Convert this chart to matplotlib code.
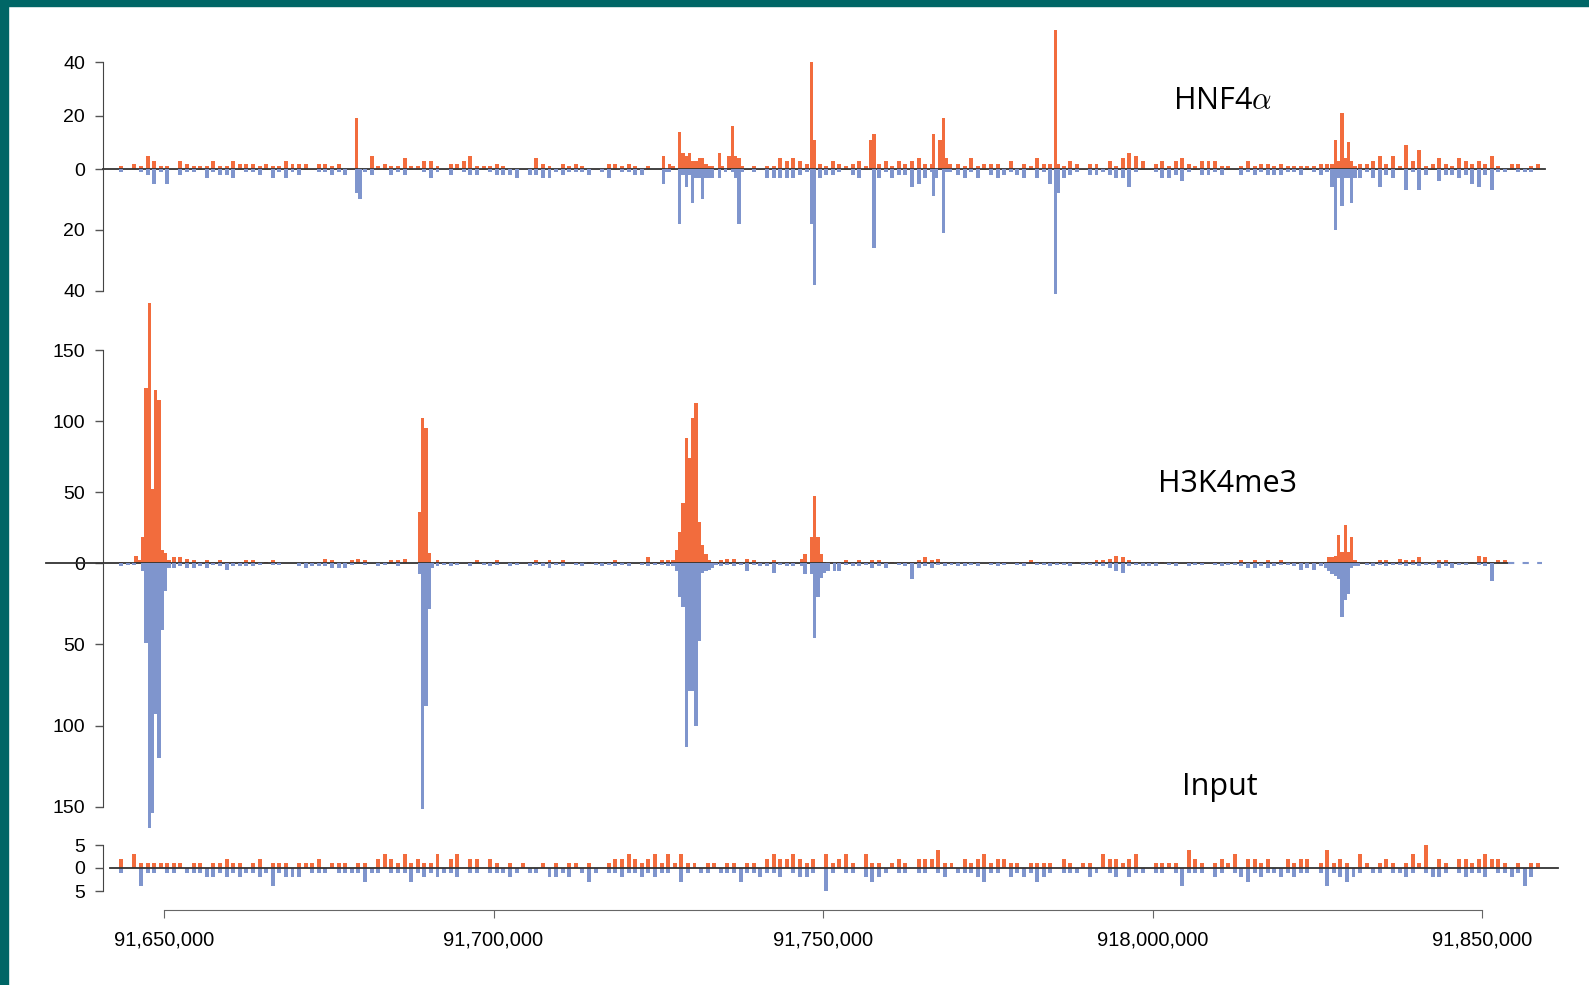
import numpy as np
import matplotlib
matplotlib.use("Agg")
import matplotlib.pyplot as plt
from matplotlib.patches import Rectangle

# ---- data (kb positions, read counts) ----
bin_start_kb = 91643          # first 1 kb background bin
tick_kb = [91650, 91700, 91750, 91800, 91850]
tick_labels = ["91,650,000", "91,700,000", "91,750,000", "918,000,000", "91,850,000"]

# HNF4a background, 1 kb bins (forward up, reverse down)
hnf_up = [
    1, 0, 2, 1, 5, 3, 1, 1, 0, 3, 2, 1,
    1, 1, 3, 1, 1, 3, 2, 2, 2, 1, 2, 1,
    1, 3, 2, 2, 2, 0, 2, 2, 1, 2, 0, 0,
    0, 0, 5, 1, 2, 1, 1, 4, 1, 1, 3, 3,
    1, 0, 2, 2, 3, 5, 1, 1, 1, 2, 1, 0,
    0, 0, 0, 4, 2, 1, 0, 2, 1, 2, 1, 0,
    0, 0, 2, 2, 1, 2, 1, 0, 1, 0, 0, 0,
    0, 0, 0, 0, 0, 0, 0, 0, 0, 0, 0, 0,
    1, 0, 1, 1, 4, 3, 4, 3, 2, 0, 2, 1,
    3, 2, 1, 2, 3, 1, 0, 2, 3, 1, 3, 2,
    3, 4, 2, 2, 0, 0, 0, 2, 1, 4, 1, 2,
    2, 2, 0, 3, 0, 2, 1, 4, 2, 2, 0, 1,
    3, 2, 0, 2, 2, 0, 3, 1, 4, 6, 5, 3,
    0, 2, 3, 1, 3, 4, 2, 1, 3, 3, 3, 1,
    1, 0, 1, 3, 1, 2, 2, 1, 2, 1, 1, 1,
    1, 1, 2, 2, 0, 0, 0, 0, 2, 2, 3, 5,
    2, 5, 1, 9, 3, 7, 1, 2, 4, 2, 1, 4,
    3, 2, 3, 2, 5, 1, 0, 2, 2, 0, 1, 2,
]
hnf_dn = [
    1, 0, 0, 1, 2, 5, 1, 5, 0, 2, 1, 1,
    0, 3, 1, 2, 2, 3, 0, 1, 1, 2, 0, 3,
    1, 3, 1, 2, 0, 0, 1, 1, 2, 1, 2, 0,
    0, 1, 2, 0, 0, 2, 1, 2, 0, 0, 1, 3,
    1, 0, 2, 0, 1, 2, 2, 0, 1, 2, 2, 2,
    3, 0, 2, 2, 3, 3, 1, 2, 1, 1, 1, 2,
    0, 1, 3, 0, 1, 1, 2, 2, 0, 0, 0, 0,
    0, 0, 0, 0, 0, 0, 0, 0, 0, 0, 0, 0,
    1, 0, 3, 3, 3, 3, 3, 2, 1, 0, 3, 2,
    2, 1, 0, 2, 3, 0, 0, 3, 1, 3, 2, 2,
    6, 5, 3, 1, 0, 0, 0, 2, 3, 1, 3, 0,
    2, 3, 2, 1, 2, 3, 0, 3, 1, 5, 0, 3,
    2, 1, 0, 2, 2, 1, 2, 3, 3, 6, 1, 0,
    0, 1, 3, 3, 2, 4, 1, 0, 2, 2, 1, 2,
    0, 0, 2, 1, 2, 1, 2, 2, 2, 1, 1, 2,
    0, 1, 2, 1, 0, 0, 0, 0, 3, 1, 3, 6,
    2, 3, 0, 7, 1, 7, 2, 0, 4, 2, 2, 3,
    2, 5, 6, 2, 7, 1, 1, 0, 1, 1, 1, 0,
]
# HNF4a peaks, 0.5 kb bins
hnf_peak_kb = [91679.0, 91679.5,
               91725.5, 91726.0, 91726.5, 91727.0, 91728.0, 91728.5, 91729.0, 91729.5,
               91730.0, 91730.5, 91731.0, 91731.5, 91732.0, 91732.5, 91733.0, 91734.0,
               91734.5, 91735.0, 91735.5, 91736.0, 91736.5, 91737.0, 91737.5,
               91748.0, 91748.5, 91757.0, 91757.5,
               91766.5, 91767.0, 91767.5, 91768.0, 91768.5, 91769.0,
               91785.0, 91785.5,
               91827.0, 91827.5, 91828.0, 91828.5, 91829.0, 91829.5, 91830.0, 91830.5]
hnf_peak_up = [19, 0,
               5, 0, 2, 1, 14, 6, 5, 6,
               3, 3, 4, 4, 2, 1, 1, 6,
               1, 0, 5, 16, 5, 4, 1,
               40, 11, 11, 13,
               13, 0, 11, 19, 4, 2,
               52, 2,
               2, 11, 3, 21, 4, 10, 3, 1]
hnf_peak_dn = [8, 10,
               5, 1, 1, 0, 18, 2, 6, 2,
               11, 3, 3, 10, 3, 3, 3, 3,
               0, 1, 0, 1, 3, 18, 1,
               18, 38, 0, 26,
               9, 3, 0, 21, 1, 1,
               41, 8,
               6, 20, 3, 12, 3, 3, 11, 3]

# H3K4me3 background, 1 kb bins
h3_up = [
    1, 0, 0, 0, 0, 0, 0, 0, 4, 4, 3, 2,
    1, 2, 1, 2, 1, 1, 1, 2, 2, 0, 1, 2,
    0, 0, 0, 0, 0, 1, 1, 3, 2, 0, 0, 2,
    3, 2, 0, 0, 0, 2, 2, 3, 0, 0, 0, 0,
    2, 1, 0, 1, 0, 1, 2, 0, 1, 2, 0, 0,
    1, 0, 1, 2, 0, 2, 1, 2, 0, 1, 0, 1,
    1, 0, 1, 2, 0, 1, 0, 1, 4, 1, 2, 2,
    0, 0, 0, 0, 0, 0, 0, 2, 3, 3, 1, 3,
    2, 1, 1, 2, 0, 1, 1, 0, 0, 0, 0, 0,
    0, 1, 2, 1, 2, 1, 2, 2, 1, 1, 1, 1,
    1, 2, 4, 2, 3, 1, 1, 0, 1, 0, 1, 0,
    1, 0, 1, 0, 1, 1, 2, 1, 0, 1, 1, 0,
    1, 1, 0, 1, 2, 2, 3, 5, 4, 2, 1, 0,
    1, 0, 1, 0, 1, 0, 1, 0, 1, 0, 1, 0,
    1, 0, 2, 1, 2, 1, 2, 1, 2, 0, 1, 1,
    0, 1, 0, 0, 0, 0, 0, 0, 0, 1, 0, 2,
    2, 1, 3, 2, 2, 4, 1, 0, 2, 2, 1, 1,
    0, 1, 5, 4, 1, 2, 2, 0, 0, 0, 0, 0,
]
h3_dn = [
    2, 1, 1, 0, 0, 0, 0, 0, 3, 2, 3, 3,
    2, 3, 1, 2, 4, 2, 2, 2, 2, 1, 0, 1,
    1, 0, 0, 2, 3, 2, 2, 2, 3, 3, 3, 1,
    0, 1, 0, 2, 1, 0, 2, 0, 0, 0, 0, 0,
    2, 1, 2, 1, 0, 2, 0, 1, 2, 1, 0, 2,
    1, 0, 2, 1, 2, 3, 1, 2, 0, 1, 2, 0,
    1, 2, 1, 2, 1, 2, 0, 1, 2, 1, 1, 2,
    0, 0, 0, 0, 0, 0, 0, 2, 1, 2, 1, 5,
    1, 2, 2, 6, 1, 2, 2, 0, 0, 0, 0, 0,
    0, 5, 1, 2, 2, 1, 3, 2, 3, 0, 1, 2,
    10, 3, 2, 3, 1, 2, 1, 2, 2, 1, 2, 0,
    1, 2, 1, 0, 1, 2, 0, 1, 1, 2, 1, 1,
    2, 0, 1, 1, 2, 2, 3, 5, 6, 2, 1, 2,
    2, 2, 0, 1, 2, 0, 2, 1, 1, 0, 1, 2,
    1, 1, 2, 3, 3, 2, 3, 2, 1, 1, 2, 4,
    3, 4, 2, 0, 0, 0, 0, 0, 0, 1, 2, 1,
    2, 1, 1, 2, 1, 2, 1, 1, 3, 2, 3, 1,
    1, 0, 1, 2, 11, 0, 0, 0, 0, 0, 0, 0,
]
# H3K4me3 peaks, 0.5 kb bins
h3_peak_kb = [91645.5, 91646.0, 91646.5, 91647.0, 91647.5, 91648.0, 91648.5, 91649.0,
              91649.5, 91650.0, 91650.5,
              91688.5, 91689.0, 91689.5, 91690.0, 91690.5,
              91727.0, 91727.5, 91728.0, 91728.5, 91729.0, 91729.5, 91730.0, 91730.5,
              91731.0, 91731.5, 91732.0, 91732.5, 91733.0, 91733.5,
              91746.5, 91747.0, 91748.0, 91748.5, 91749.0, 91749.5, 91750.0, 91750.5,
              91751.0, 91751.5,
              91826.0, 91826.5, 91827.0, 91827.5, 91828.0, 91828.5, 91829.0, 91829.5,
              91830.0, 91830.5, 91831.0]
h3_peak_up = [5, 2, 18, 123, 183, 52, 122, 115,
              9, 7, 2,
              36, 102, 95, 7, 0,
              2, 9, 22, 42, 88, 74, 102, 113,
              29, 13, 6, 2, 1, 1,
              3, 6, 18, 47, 18, 6, 1, 0,
              1, 0,
              1, 4, 4, 5, 20, 8, 27, 8,
              18, 2, 1]
h3_peak_dn = [0, 0, 5, 49, 163, 154, 93, 120,
              41, 17, 3,
              7, 151, 88, 28, 3,
              2, 5, 21, 27, 113, 79, 79, 100,
              48, 6, 5, 4, 3, 1,
              2, 7, 7, 46, 21, 9, 6, 5,
              0, 5,
              3, 5, 7, 8, 10, 33, 23, 19,
              3, 2, 2]

# Input background, 1 kb bins
inp_up = [
    2, 0, 3, 1, 1, 1, 1, 1, 1, 1, 0, 1,
    1, 0, 1, 1, 2, 1, 1, 0, 1, 2, 0, 1,
    1, 1, 0, 1, 1, 1, 2, 0, 1, 1, 1, 0,
    1, 1, 0, 2, 3, 2, 1, 3, 1, 2, 1, 1,
    3, 0, 2, 3, 0, 2, 2, 0, 2, 1, 0, 1,
    0, 1, 0, 0, 1, 0, 1, 0, 1, 1, 0, 1,
    0, 0, 1, 2, 2, 3, 2, 1, 2, 3, 1, 3,
    1, 3, 1, 1, 0, 1, 1, 0, 1, 1, 0, 1,
    1, 0, 2, 3, 2, 2, 3, 2, 1, 2, 0, 3,
    1, 2, 3, 1, 0, 3, 1, 1, 0, 1, 2, 1,
    0, 2, 2, 2, 4, 1, 1, 0, 2, 1, 2, 3,
    1, 2, 2, 1, 1, 0, 1, 1, 1, 1, 0, 2,
    1, 0, 1, 1, 0, 3, 2, 2, 1, 2, 3, 0,
    0, 1, 1, 1, 1, 0, 4, 2, 1, 0, 1, 2,
    1, 3, 0, 2, 2, 1, 2, 0, 0, 2, 1, 2,
    2, 0, 1, 4, 1, 2, 1, 0, 3, 1, 0, 1,
    2, 1, 0, 1, 3, 1, 5, 0, 2, 1, 0, 2,
    2, 1, 2, 3, 2, 2, 1, 0, 1, 0, 1, 1,
]
inp_dn = [
    1, 0, 0, 4, 1, 1, 0, 1, 1, 0, 1, 1,
    1, 2, 2, 1, 2, 1, 2, 1, 1, 2, 1, 4,
    1, 2, 2, 2, 0, 1, 1, 1, 0, 1, 1, 1,
    1, 3, 1, 1, 0, 1, 1, 1, 3, 1, 2, 1,
    2, 1, 1, 2, 0, 1, 1, 0, 1, 1, 1, 2,
    1, 0, 1, 1, 0, 2, 2, 1, 2, 0, 1, 3,
    1, 0, 1, 1, 2, 1, 1, 2, 1, 2, 1, 1,
    0, 3, 1, 0, 1, 1, 0, 1, 1, 1, 3, 1,
    1, 2, 1, 1, 2, 0, 1, 2, 2, 1, 0, 5,
    1, 0, 1, 1, 0, 2, 3, 2, 1, 0, 1, 1,
    0, 1, 1, 0, 1, 2, 0, 1, 1, 1, 2, 3,
    1, 1, 0, 2, 1, 2, 1, 3, 2, 1, 0, 1,
    1, 1, 0, 2, 1, 0, 1, 2, 0, 2, 1, 1,
    0, 1, 1, 0, 1, 4, 1, 1, 1, 0, 2, 1,
    0, 1, 2, 3, 1, 2, 1, 1, 2, 1, 2, 1,
    1, 0, 1, 4, 1, 2, 3, 2, 1, 0, 1, 1,
    0, 1, 1, 2, 1, 0, 1, 2, 2, 1, 0, 1,
    2, 1, 1, 2, 0, 1, 1, 2, 1, 4, 2, 0,
]

# ---- layout (pixels of the 1589x985 canvas) ----
W_PX, H_PX = 1589, 985
ORANGE = "#f26c3d"
BLUE = "#7f95cd"
TEAL = "#006666"
AX_LEFT, AX_RIGHT = 103, 1548
BG_WIDTH = 0.6   # background bars are drawn thinner than their 1 kb bin


def px2kb(x):
    # 91,650 kb sits at x=164, 6.59 px per kb
    return 91650 + (x - 164) / 6.59


X0, X1 = px2kb(AX_LEFT), px2kb(AX_RIGHT)

plt.rcParams["font.family"] = ["Liberation Sans", "DejaVu Sans"]
plt.rcParams["mathtext.fontset"] = "cm"

fig = plt.figure(figsize=(W_PX / 100, H_PX / 100), dpi=100)
fig.patch.set_facecolor("white")
fig.patches.append(Rectangle((0, 0), 8 / W_PX, 1, transform=fig.transFigure,
                             color=TEAL, zorder=0))
fig.patches.append(Rectangle((0, 1 - 6 / H_PX), 1, 6 / H_PX, transform=fig.transFigure,
                             color=TEAL, zorder=0))


def make_ax(top, bottom, ylim, ticks, labels, bounds):
    ax = fig.add_axes([AX_LEFT / W_PX, 1 - bottom / H_PX,
                       (AX_RIGHT - AX_LEFT) / W_PX, (bottom - top) / H_PX])
    ax.patch.set_alpha(0)
    ax.set_xlim(X0, X1)
    ax.set_ylim(*ylim)
    for s in ("top", "right", "bottom"):
        ax.spines[s].set_visible(False)
    ax.spines["left"].set_color("#444444")
    ax.spines["left"].set_bounds(*bounds)
    ax.set_xticks([])
    ax.set_yticks(ticks)
    ax.set_yticklabels(labels)
    ax.tick_params(axis="y", direction="out", length=6, width=1, color="#555555",
                   pad=7, labelsize=14)
    return ax


def draw_bars(ax, values, sign, color, width=BG_WIDTH, kb=None):
    vals = sign * np.asarray(values, dtype=float)
    if kb is None:
        kb = bin_start_kb + np.arange(len(vals)) + (1 - width) / 2
    ax.bar(kb, vals, width=width, align="edge", color=color, linewidth=0, zorder=2)


# HNF4a: separate scales above and below zero
hnf_top = make_ax(28.6, 169, (0, 52.5), [0, 20, 40], ["0", "20", "40"], (0, 40))
hnf_bot = make_ax(169, 300, (-43, 0), [-40, -20], ["40", "20"], (-40, 0))
draw_bars(hnf_top, hnf_up, 1, ORANGE)
draw_bars(hnf_bot, hnf_dn, -1, BLUE)
draw_bars(hnf_top, hnf_peak_up, 1, ORANGE, 0.5, hnf_peak_kb)
draw_bars(hnf_bot, hnf_peak_dn, -1, BLUE, 0.5, hnf_peak_kb)
hnf_top.plot([X0, px2kb(1545)], [0, 0], color="#333333", lw=1.3, zorder=3, clip_on=False)

# H3K4me3
h3_top = make_ax(299, 563, (0, 186), [0, 50, 100, 150], ["0", "50", "100", "150"], (0, 150))
h3_bot = make_ax(563, 833, (-166, 0), [-150, -100, -50], ["150", "100", "50"], (-150, 0))
draw_bars(h3_top, h3_up, 1, ORANGE)
draw_bars(h3_bot, h3_dn, -1, BLUE)
draw_bars(h3_top, h3_peak_up, 1, ORANGE, 0.5, h3_peak_kb)
draw_bars(h3_bot, h3_peak_dn, -1, BLUE, 0.5, h3_peak_kb)
h3_top.plot([px2kb(46), px2kb(1508)], [0, 0], color="#333333", lw=1.3, zorder=3, clip_on=False)
h3_top.plot([px2kb(1508), px2kb(1542)], [0, 0], color=BLUE, lw=1.5, ls=(0, (3, 4)),
            zorder=3, clip_on=False)

# Input
inp = make_ax(845, 891, (-5, 5), [-5, 0, 5], ["5", "0", "5"], (-5, 5))
draw_bars(inp, inp_up, 1, ORANGE)
draw_bars(inp, inp_dn, -1, BLUE)
inp.plot([px2kb(110), px2kb(1558)], [0, 0], color="#333333", lw=1.3, zorder=3, clip_on=False)

# genomic coordinate axis
xax = fig.add_axes([AX_LEFT / W_PX, 1 - 910 / H_PX, (AX_RIGHT - AX_LEFT) / W_PX, 0.001])
xax.patch.set_alpha(0)
xax.set_xlim(X0, X1)
for s in ("top", "right", "left"):
    xax.spines[s].set_visible(False)
xax.spines["bottom"].set_color("#666666")
xax.spines["bottom"].set_bounds(tick_kb[0], tick_kb[-1])
xax.set_yticks([])
xax.set_xticks(tick_kb)
xax.set_xticklabels(tick_labels)
xax.tick_params(axis="x", direction="out", length=6, color="#666666", pad=9, labelsize=14.5)

# track names
fig.text(1173 / W_PX, 1 - 101 / H_PX, r"HNF4$\alpha$", fontsize=22, family="Open Sans",
         va="center", ha="left")
fig.text(1158 / W_PX, 1 - 484 / H_PX, "H3K4me3", fontsize=22, family="Open Sans",
         va="center", ha="left")
fig.text(1182 / W_PX, 1 - 787 / H_PX, "Input", fontsize=22, family="Open Sans",
         va="center", ha="left")

fig.savefig("out.png", dpi=100)
